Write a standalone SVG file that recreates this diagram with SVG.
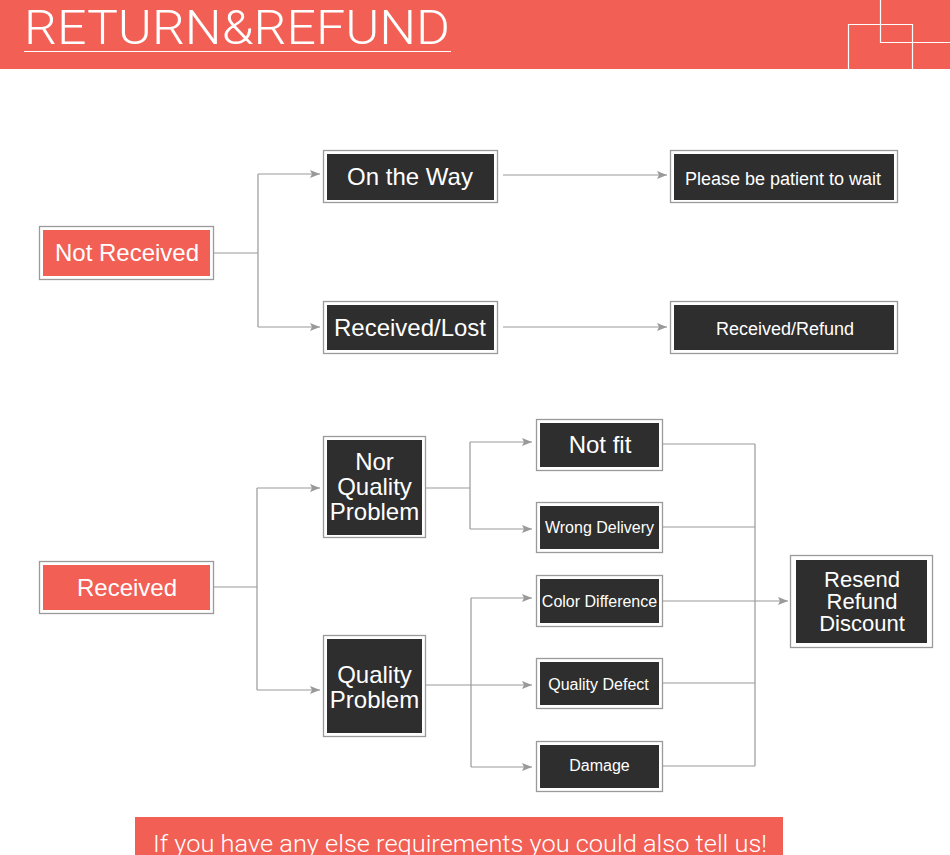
<svg xmlns="http://www.w3.org/2000/svg" width="950" height="855" viewBox="0 0 950 855">
<style>
.outer{fill:#fff;stroke:#9a9a9a;stroke-width:1.3}
.dark{fill:#2e2e2e}
.red{fill:#f25f55}
.t{font-family:"Liberation Sans",Arial,sans-serif;fill:#fff;text-anchor:middle}
.c{fill:none;stroke:#999;stroke-width:1.2}
.thin{font-family:"Roboto","Liberation Sans",sans-serif;font-weight:300;fill:#fff}
</style>
<defs>
<marker id="ah" viewBox="0 0 10 8" refX="10" refY="4" markerWidth="10" markerHeight="8" markerUnits="userSpaceOnUse" orient="auto">
<path d="M0,0 L10,4 L0,8 L2,4 Z" fill="#999"/>
</marker>
</defs>
<rect width="950" height="855" fill="#fff"/>
<g id="header">
<rect x="0" y="0" width="950" height="69" class="red"/>
<text x="24" y="44" class="thin" font-size="48" textLength="426" lengthAdjust="spacingAndGlyphs">RETURN&amp;REFUND</text>
<line x1="24" y1="51.5" x2="451" y2="51.5" stroke="#fff" stroke-width="1.2"/>
<path d="M880.5,0 V42.5 H950 M848.5,69 V24.5 H912.5 V69" fill="none" stroke="#fff" stroke-width="1.2"/>
</g>
<g id="connectors">
<path class="c" d="M213,253 H258 M258,174 V327"/>
<path class="c" d="M258,174 H320" marker-end="url(#ah)"/>
<path class="c" d="M258,327 H320" marker-end="url(#ah)"/>
<path class="c" d="M503,175 H667" marker-end="url(#ah)"/>
<path class="c" d="M503,327 H667" marker-end="url(#ah)"/>
<path class="c" d="M213,587 H257 M257,488 V690"/>
<path class="c" d="M257,488 H320" marker-end="url(#ah)"/>
<path class="c" d="M257,690 H320" marker-end="url(#ah)"/>
<path class="c" d="M425,488 H470 M470,442 V529"/>
<path class="c" d="M470,442 H532" marker-end="url(#ah)"/>
<path class="c" d="M470,529 H532" marker-end="url(#ah)"/>
<path class="c" d="M425,685 H532" marker-end="url(#ah)"/>
<path class="c" d="M471,598 V767"/>
<path class="c" d="M471,598 H532" marker-end="url(#ah)"/>
<path class="c" d="M471,767 H532" marker-end="url(#ah)"/>
<path class="c" d="M663,444 H755 M663,527 H755 M663,683 H755 M663,766 H755 M755,444 V766"/>
<path class="c" d="M663,601 H788" marker-end="url(#ah)"/>
</g>
<g id="not-received">
<rect x="39.5" y="226.5" width="174" height="53" class="outer"/>
<rect x="43" y="230" width="167" height="46" class="red"/>
<text x="127" y="261" class="t" font-size="24">Not Received</text>
</g>
<g id="on-the-way">
<rect x="323.5" y="150.5" width="174" height="52" class="outer"/>
<rect x="327" y="154" width="167" height="46" class="dark"/>
<text x="410" y="185" class="t" font-size="24">On the Way</text>
</g>
<g id="received-lost">
<rect x="323.5" y="301.5" width="174" height="52" class="outer"/>
<rect x="327" y="305" width="167" height="45" class="dark"/>
<text x="410" y="336" class="t" font-size="24">Received/Lost</text>
</g>
<g id="please-wait">
<rect x="670.5" y="150.5" width="227" height="52" class="outer"/>
<rect x="674" y="154" width="220" height="46" class="dark"/>
<text x="783" y="185" class="t" font-size="18">Please be patient to wait</text>
</g>
<g id="received-refund">
<rect x="670.5" y="301.5" width="227" height="52" class="outer"/>
<rect x="674" y="305" width="220" height="45" class="dark"/>
<text x="785" y="335" class="t" font-size="18">Received/Refund</text>
</g>
<g id="received">
<rect x="39.5" y="561.5" width="174" height="52" class="outer"/>
<rect x="43" y="565" width="167" height="45" class="red"/>
<text x="127" y="596" class="t" font-size="24">Received</text>
</g>
<g id="nor-quality-problem">
<rect x="323.5" y="436.5" width="102" height="101" class="outer"/>
<rect x="327" y="440" width="95" height="95" class="dark"/>
<text class="t" font-size="24"><tspan x="374.5" y="470">Nor</tspan><tspan x="374.5" y="495">Quality</tspan><tspan x="374.5" y="520">Problem</tspan></text>
</g>
<g id="quality-problem">
<rect x="323.5" y="635.5" width="102" height="101" class="outer"/>
<rect x="327" y="639" width="95" height="94" class="dark"/>
<text class="t" font-size="24"><tspan x="374.5" y="683">Quality</tspan><tspan x="374.5" y="708">Problem</tspan></text>
</g>
<g id="not-fit">
<rect x="536.5" y="419.5" width="126" height="51" class="outer"/>
<rect x="540" y="423" width="119" height="44" class="dark"/>
<text x="600" y="453" class="t" font-size="24">Not fit</text>
</g>
<g id="wrong-delivery">
<rect x="536.5" y="502.5" width="126" height="50" class="outer"/>
<rect x="540" y="506" width="119" height="43" class="dark"/>
<text x="599.5" y="533" class="t" font-size="16">Wrong Delivery</text>
</g>
<g id="color-difference">
<rect x="536.5" y="575.5" width="126" height="51" class="outer"/>
<rect x="540" y="579" width="119" height="44" class="dark"/>
<text x="599.5" y="607" class="t" font-size="16">Color Difference</text>
</g>
<g id="quality-defect">
<rect x="536.5" y="658.5" width="126" height="50" class="outer"/>
<rect x="540" y="662" width="119" height="43" class="dark"/>
<text x="598.5" y="690" class="t" font-size="16">Quality Defect</text>
</g>
<g id="damage">
<rect x="536.5" y="741.5" width="126" height="50" class="outer"/>
<rect x="540" y="745" width="119" height="43" class="dark"/>
<text x="599.5" y="771" class="t" font-size="16">Damage</text>
</g>
<g id="resend">
<rect x="790.5" y="555.5" width="142" height="92" class="outer"/>
<rect x="796" y="560" width="131" height="83" class="dark"/>
<text class="t" font-size="22"><tspan x="862" y="587">Resend</tspan><tspan x="862" y="609">Refund</tspan><tspan x="862" y="631">Discount</tspan></text>
</g>
<g id="footer">
<rect x="135" y="817" width="648" height="40" class="red"/>
<text x="153" y="852" class="thin" font-size="24" textLength="614" lengthAdjust="spacingAndGlyphs">If you have any else requirements you could also tell us!</text>
</g>
</svg>
